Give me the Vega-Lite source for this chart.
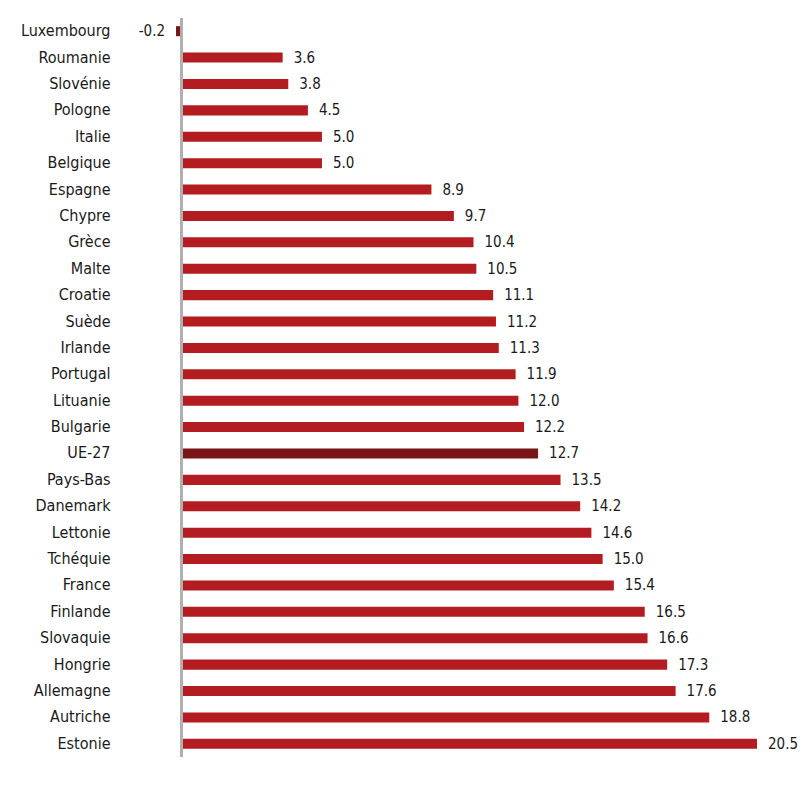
{
  "$schema": "https://vega.github.io/schema/vega-lite/v6.json",
  "description": "Variation par pays, UE-27",
  "autosize": {"type": "none"},
  "width": 581,
  "height": 739,
  "padding": {"left": 176, "top": 18, "right": 43, "bottom": 43},
  "background": "white",
  "data": {
    "values": [
      {"pays": "Luxembourg", "valeur": -0.2},
      {"pays": "Roumanie", "valeur": 3.6},
      {"pays": "Slovénie", "valeur": 3.8},
      {"pays": "Pologne", "valeur": 4.5},
      {"pays": "Italie", "valeur": 5.0},
      {"pays": "Belgique", "valeur": 5.0},
      {"pays": "Espagne", "valeur": 8.9},
      {"pays": "Chypre", "valeur": 9.7},
      {"pays": "Grèce", "valeur": 10.4},
      {"pays": "Malte", "valeur": 10.5},
      {"pays": "Croatie", "valeur": 11.1},
      {"pays": "Suède", "valeur": 11.2},
      {"pays": "Irlande", "valeur": 11.3},
      {"pays": "Portugal", "valeur": 11.9},
      {"pays": "Lituanie", "valeur": 12.0},
      {"pays": "Bulgarie", "valeur": 12.2},
      {"pays": "UE-27", "valeur": 12.7},
      {"pays": "Pays-Bas", "valeur": 13.5},
      {"pays": "Danemark", "valeur": 14.2},
      {"pays": "Lettonie", "valeur": 14.6},
      {"pays": "Tchéquie", "valeur": 15.0},
      {"pays": "France", "valeur": 15.4},
      {"pays": "Finlande", "valeur": 16.5},
      {"pays": "Slovaquie", "valeur": 16.6},
      {"pays": "Hongrie", "valeur": 17.3},
      {"pays": "Allemagne", "valeur": 17.6},
      {"pays": "Autriche", "valeur": 18.8},
      {"pays": "Estonie", "valeur": 20.5}
    ]
  },
  "layer": [
    {
      "mark": {"type": "bar"},
      "encoding": {
        "y": {
          "field": "pays",
          "type": "nominal",
          "sort": null,
          "scale": {"paddingInner": 0.62, "paddingOuter": 0.31},
          "axis": {
            "title": null,
            "domain": false,
            "ticks": false,
            "labelPadding": 66,
            "labelFontSize": 16,
            "labelFont": "Liberation Sans Narrow, DejaVu Sans Condensed, sans-serif",
            "labelColor": "#1a1a1a"
          }
        },
        "x": {
          "field": "valeur",
          "type": "quantitative",
          "scale": {"domain": [-0.2, 20.5], "nice": false, "zero": false},
          "axis": null
        },
        "color": {
          "condition": {"test": "datum.pays === 'UE-27' || datum.pays === 'Luxembourg'", "value": "#7a1517"},
          "value": "#b31c21"
        }
      }
    },
    {
      "mark": {"type": "rule", "color": "#b0b0b0", "strokeWidth": 1.5},
      "encoding": {"x": {"datum": 0, "type": "quantitative"}}
    },
    {
      "transform": [{"filter": "datum.valeur >= 0"}],
      "mark": {
        "type": "text",
        "align": "left",
        "dx": 11,
        "fontSize": 15,
        "font": "Liberation Sans Narrow, DejaVu Sans Condensed, sans-serif",
        "color": "#1a1a1a"
      },
      "encoding": {
        "y": {"field": "pays", "type": "nominal", "sort": null},
        "x": {"field": "valeur", "type": "quantitative"},
        "text": {"field": "valeur", "type": "quantitative", "format": ".1f"}
      }
    },
    {
      "transform": [
        {"filter": "datum.valeur < 0"},
        {"calculate": "'-' + format(abs(datum.valeur), '.1f')", "as": "etiquette"}
      ],
      "mark": {
        "type": "text",
        "align": "right",
        "dx": -11,
        "fontSize": 15,
        "font": "Liberation Sans Narrow, DejaVu Sans Condensed, sans-serif",
        "color": "#1a1a1a"
      },
      "encoding": {
        "y": {"field": "pays", "type": "nominal", "sort": null},
        "x": {"field": "valeur", "type": "quantitative"},
        "text": {"field": "etiquette", "type": "nominal"}
      }
    }
  ],
  "config": {"view": {"stroke": null}}
}
